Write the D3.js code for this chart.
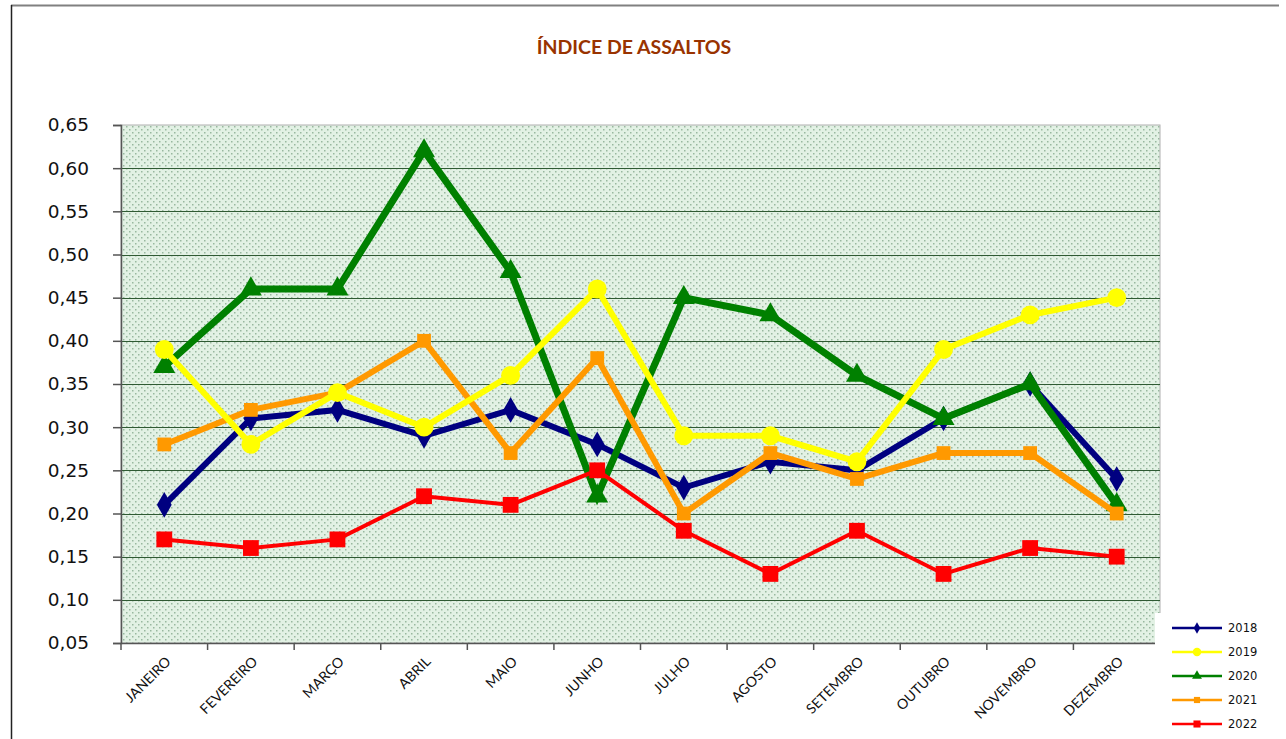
<!DOCTYPE html>
<html>
<head>
<meta charset="utf-8">
<script src="https://cdn.jsdelivr.net/npm/d3@7"></script>
<style>
  body { margin: 0; background: #fff; }
  svg { display: block; }
</style>
</head>
<body>
<svg id="chart" width="1286" height="739"></svg>
<script>
// month names on the x axis
const meses = ["JANEIRO","FEVEREIRO","MARÇO","ABRIL","MAIO","JUNHO","JULHO","AGOSTO","SETEMBRO","OUTUBRO","NOVEMBRO","DEZEMBRO"];
const anos = ["2018","2019","2020","2021","2022"];
const yTicks = [0.05,0.10,0.15,0.20,0.25,0.30,0.35,0.40,0.45,0.50,0.55,0.60,0.65];

const v2018 = [0.21,0.31,0.32,0.29,0.32,0.28,0.23,0.26,0.25,0.31,0.35,0.24];
const v2019 = [0.39,0.28,0.34,0.30,0.36,0.46,0.29,0.29,0.26,0.39,0.43,0.45];
const v2020 = [0.37,0.46,0.46,0.62,0.48,0.22,0.45,0.43,0.36,0.31,0.35,0.21];
const v2021 = [0.28,0.32,0.34,0.40,0.27,0.38,0.20,0.27,0.24,0.27,0.27,0.20];
const v2022 = [0.17,0.16,0.17,0.22,0.21,0.25,0.18,0.13,0.18,0.13,0.16,0.15];

const series = [
  {ano:"2018", vals:v2018, cor:"#000080", w:6,   mark:d3.symbolDiamond, ms:190},
  {ano:"2020", vals:v2020, cor:"#008000", w:7,   mark:d3.symbolTriangle, ms:210},
  {ano:"2021", vals:v2021, cor:"#FF9900", w:6,   mark:d3.symbolSquare,  ms:190},
  {ano:"2019", vals:v2019, cor:"#FFFF00", w:6,   mark:d3.symbolCircle,  ms:280},
  {ano:"2022", vals:v2022, cor:"#FF0000", w:4,   mark:d3.symbolSquare,  ms:250}
];

const svg = d3.select("#chart");
const pLeft = 121, pRight = 1160, pTop = 125, pBottom = 643;

// dotted background like the excel fill
const defs = svg.append("defs");
const pat = defs.append("pattern").attr("id","dots")
  .attr("width",6).attr("height",6).attr("patternUnits","userSpaceOnUse");
pat.append("rect").attr("width",6).attr("height",6).attr("fill","#e2f1e4");
pat.append("rect").attr("x",0).attr("y",0).attr("width",1.5).attr("height",1.5).attr("fill","#98b89f");
pat.append("rect").attr("x",3).attr("y",3).attr("width",1.5).attr("height",1.5).attr("fill","#98b89f");

// outer border
svg.append("line").attr("x1",11).attr("x2",1279).attr("y1",5.5).attr("y2",5.5).attr("stroke","#808080").attr("stroke-width",2);
svg.append("line").attr("x1",11.5).attr("x2",11.5).attr("y1",5).attr("y2",739).attr("stroke","#222").attr("stroke-width",1.5);

svg.append("text").attr("x",634).attr("y",54).attr("text-anchor","middle")
  .attr("font-family","Lato, 'Open Sans', sans-serif").attr("font-weight","bold")
  .attr("font-size",19.5).attr("fill","#993300").text("ÍNDICE DE ASSALTOS");

const x = d3.scaleBand().domain(meses).range([pLeft,pRight]);
const y = d3.scaleLinear().domain([0.05,0.65]).range([pBottom,pTop]);

svg.append("rect").attr("x",pLeft).attr("y",pTop).attr("width",pRight-pLeft).attr("height",pBottom-pTop)
  .attr("fill","url(#dots)").attr("stroke","#b0b0b0");

// grid lines
svg.append("g").selectAll("line").data(yTicks.slice(1,-1)).join("line")
  .attr("x1",pLeft).attr("x2",pRight).attr("y1",d=>Math.round(y(d))+0.5).attr("y2",d=>Math.round(y(d))+0.5)
  .attr("stroke","#2f5a33").attr("stroke-width",1.2);

// y axis
const yAxis = svg.append("g").attr("transform",`translate(${pLeft},0)`)
  .call(d3.axisLeft(y).tickValues(yTicks).tickSize(8).tickPadding(24)
    .tickFormat(d => d3.format(".2f")(d).replace(".",",")));
yAxis.selectAll("text").attr("font-family","'DejaVu Sans', sans-serif").attr("font-size",18.5).attr("fill","#111");
yAxis.selectAll("line,path").attr("stroke","#555").attr("stroke-width",1.5);

// x axis, ticks on the band edges
const xAxis = svg.append("g").attr("transform",`translate(0,${pBottom})`)
  .call(d3.axisBottom(x).tickSize(0).tickPadding(0));
xAxis.select("path").attr("stroke","#555").attr("stroke-width",1.5);
xAxis.selectAll("text")
  .attr("font-family","Lato, sans-serif").attr("font-size",14).attr("fill","#111")
  .attr("text-anchor","end").attr("y",0).attr("dy","0.35em")
  .attr("transform","translate(4,16) rotate(-45)");
svg.append("g").selectAll("line").data(meses).join("line")
  .attr("x1",d=>x(d)).attr("x2",d=>x(d)).attr("y1",pBottom).attr("y2",pBottom+7)
  .attr("stroke","#555").attr("stroke-width",1.5);

const line = d3.line().x((d,i)=>x(meses[i])+x.bandwidth()/2).y(d=>y(d));

series.forEach(s => {
  const g = svg.append("g");
  g.append("path").datum(s.vals).attr("d",line).attr("fill","none")
    .attr("stroke",s.cor).attr("stroke-width",s.w).attr("stroke-linejoin","miter");
  g.selectAll("path.m").data(s.vals).join("path").attr("class","m")
    .attr("d",d3.symbol().type(s.mark).size(s.ms))
    .attr("transform",(d,i)=>`translate(${x(meses[i])+x.bandwidth()/2},${y(d)})`)
    .attr("fill",s.cor);
});

// legend box
const leg = svg.append("g");
leg.append("rect").attr("x",1155).attr("y",613).attr("width",131).attr("height",126).attr("fill","#fff");
const legSeries = anos.map(a => series.find(s => s.ano === a));
const legItem = leg.selectAll("g").data(legSeries).join("g")
  .attr("transform",(d,i)=>`translate(1172,${628+i*24})`);
legItem.append("line").attr("x1",0).attr("x2",50).attr("stroke",d=>d.cor).attr("stroke-width",2.5);
legItem.append("path").attr("transform","translate(25,0)")
  .attr("d",d=>d3.symbol().type(d.mark).size(d.ms/5)()).attr("fill",d=>d.cor);
legItem.append("text").attr("x",56).attr("dy","0.35em")
  .attr("font-family","'DejaVu Sans', sans-serif").attr("font-size",11.5).attr("fill","#111")
  .text(d=>d.ano);
</script>
</body>
</html>
